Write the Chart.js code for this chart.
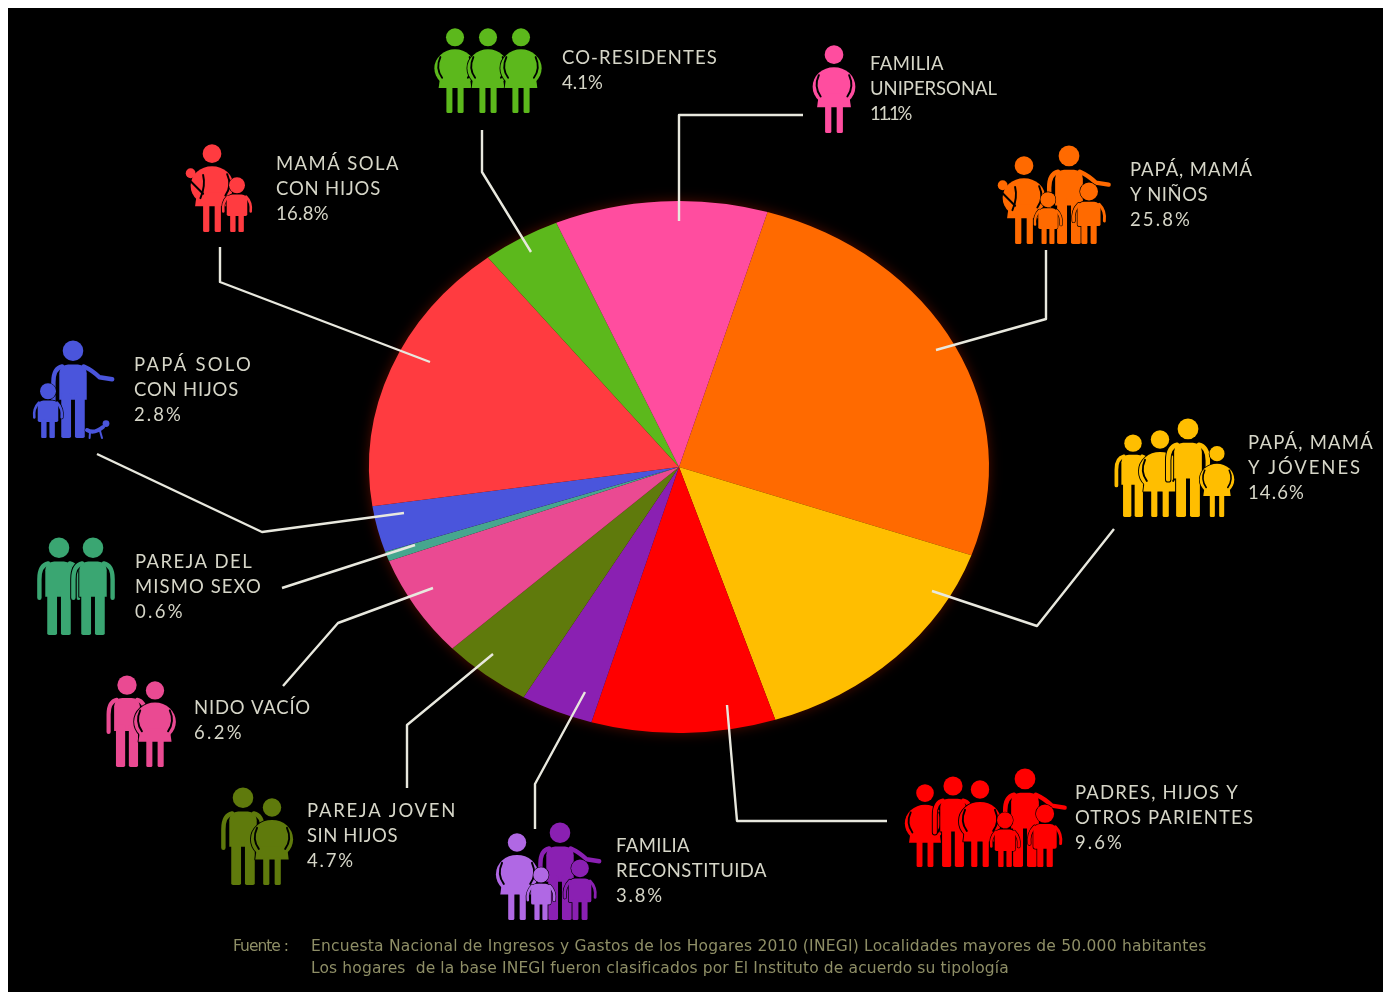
<!DOCTYPE html>
<html lang="es">
<head>
<meta charset="utf-8">
<title>Tipos de hogares</title>
<script src="https://cdn.jsdelivr.net/npm/chart.js@4"></script>
<style>
  html, body { margin: 0; padding: 0; background: #fff; }
  canvas { display: block; }
</style>
</head>
<body>
<canvas id="pie" width="1383" height="992"></canvas>
<script>
// Household types, clockwise from the orange slice.
const categories = [
  ['PAPÁ, MAMÁ', 'Y NIÑOS'],
  ['PAPÁ, MAMÁ', 'Y JÓVENES'],
  ['PADRES, HIJOS Y', 'OTROS PARIENTES'],
  ['FAMILIA', 'RECONSTITUIDA'],
  ['PAREJA JOVEN', 'SIN HIJOS'],
  ['NIDO VACÍO'],
  ['PAREJA DEL', 'MISMO SEXO'],
  ['PAPÁ SOLO', 'CON HIJOS'],
  ['MAMÁ SOLA', 'CON HIJOS'],
  ['CO-RESIDENTES'],
  ['FAMILIA', 'UNIPERSONAL']
];
const shares = [25.8, 14.6, 9.6, 3.8, 4.7, 6.2, 0.6, 2.8, 16.8, 4.1, 11.1];
const sliceColors = ['#ff6a00', '#ffbe00', '#ff0000', '#8a20b2', '#5f7a0c', '#ea4a92',
                     '#46a68e', '#4a55dc', '#ff3b40', '#5cb81c', '#ff4d9f'];
const footnoteSource = 'Fuente :';
const footnotes = [
  'Encuesta Nacional de Ingresos y Gastos de los Hogares 2010 (INEGI) Localidades mayores de 50.000 habitantes',
  'Los hogares  de la base INEGI fueron clasificados por El Instituto de acuerdo su tipología'
];

// Page layout
const PANEL = { x: 8, y: 8 };
const PIE = { cx: 679, cy: 467, rx: 310, ry: 266 };
const labelAnchors = [
  [1130, 170], [1248, 443], [1075, 793], [616, 846], [307, 811], [194, 708],
  [135, 562], [134, 365], [276, 164], [562, 58], [870, 64]
];
// Set width of every label line, percentage last.
const labelWidths = [
  [123, 78, 62], [126, 114, 57], [164, 179, 49], [74, 151, 48], [150, 91, 48], [117, 50],
  [118, 127, 50], [119, 105, 49], [124, 105, 53], [156, 41], [74, 127, 40]
];
const leaders = [
  [[1046, 250], [1046, 319], [936, 350]],
  [[1114, 529], [1037, 626], [932, 591]],
  [[887, 821], [737, 821], [727, 705]],
  [[535, 829], [535, 784], [585, 692]],
  [[407, 788], [407, 725], [493, 654]],
  [[283, 686], [338, 623], [433, 588]],
  [[282, 588], [415, 545]],
  [[97, 454], [262, 532], [404, 513]],
  [[220, 247], [220, 282], [430, 362]],
  [[482, 130], [482, 172], [531, 252]],
  [[803, 115], [679, 115], [679, 221]]
];
// kind, centre x, baseline y, height, optional tint, pointing arm
const families = [
  [['mother', 1024, 244, 89], ['man', 1069, 244, 99, null, true], ['kid', 1048, 244, 54], ['kid', 1089, 244, 64]],
  [['man', 1133, 517, 83], ['woman', 1160, 517, 88], ['man', 1188, 517, 99], ['woman', 1217, 517, 72]],
  [['woman', 925, 867, 84], ['man', 953, 867, 91], ['woman', 980, 867, 88], ['man', 1025, 867, 99, null, true], ['kid', 1005, 867, 57], ['kid', 1045, 867, 65]],
  [['woman', 517, 920, 88, '#b068e4'], ['man', 560, 920, 98, '#8a20b2', true], ['kid', 541, 920, 55, '#b068e4'], ['kid', 580, 920, 63, '#8a20b2']],
  [['man', 243, 885, 98], ['woman', 272, 885, 88]],
  [['man', 127, 767, 92], ['woman', 155, 767, 87]],
  [['man', 59, 635, 98, '#3aa672'], ['man', 93, 635, 98, '#3aa672']],
  [['man', 73, 438, 98, null, true], ['kid', 48, 438, 57], ['dog', 98, 438, 20]],
  [['mother', 212, 232, 89], ['kid', 237, 232, 57]],
  [['woman', 455, 113, 86], ['woman', 488, 113, 86], ['woman', 521, 113, 86]],
  [['woman', 834, 133, 89]]
];

// Builds the solid shapes, stroked limbs and dark cut lines of one pictogram, in units of 1/100 height.
function personShapes(kind, pointing) {
  const fills = [], limbs = [], cuts = [];
  const p = () => new Path2D();
  const head = (y, r) => { const h = p(); h.arc(0, y, r, 0, 7); fills.push(h); };
  const legs = (xo, xi, top) => {
    for (const s of [-1, 1]) {
      const l = p();
      l.roundRect(Math.min(s * xo, s * xi), top, Math.abs(xo - xi), -top, 1.8);
      fills.push(l);
    }
  };
  const limb = (d, w) => limbs.push([new Path2D(d), w]);
  if (kind === 'man') {
    head(-89, 10.5);
    const t = p(); t.roundRect(-14, -75, 28, 36, [9, 9, 0, 0]); fills.push(t);
    legs(12, 2, -46);
    limb('M-11 -73 Q-20 -71 -20 -57 L-20 -38', 4.5);
    limb(pointing ? 'M11 -73 Q20 -69 27 -62 L40 -60' : 'M11 -73 Q20 -71 20 -57 L20 -38', 4.5);
  } else if (kind === 'woman' || kind === 'mother') {
    head(-88, 10.5);
    const b = p(); b.ellipse(0, -52, 24, 22, 0, 0, 7); fills.push(b);
    const s = p(); s.moveTo(-17, -44); s.lineTo(17, -44); s.lineTo(19, -29); s.lineTo(-19, -29); s.closePath(); fills.push(s);
    legs(10, 3, -31);
    cuts.push(new Path2D('M17 -65 Q23 -52 15 -41'));
    if (kind === 'woman') {
      cuts.push(new Path2D('M-17 -65 Q-23 -52 -15 -41'));
    } else {
      const baby = p(); baby.arc(-24, -66, 5.5, 0, 7); fills.push(baby);
      cuts.push(new Path2D('M-24 -57 L-10 -43'));
      cuts.push(new Path2D('M-10 -64 Q-7 -52 -13 -38'));
    }
  } else if (kind === 'kid') {
    head(-82, 14);
    const t = p(); t.roundRect(-18, -66, 36, 38, [10, 10, 3, 3]); fills.push(t);
    legs(12, 2.5, -32);
    limb('M16 -62 Q26 -52 24 -36', 4.5);
    limb('M-16 -62 Q-26 -52 -24 -36', 4.5);
  } else if (kind === 'dog') {
    const h = p(); h.arc(40, -72, 17, 0, 7); fills.push(h);
    limb('M-55 -40 Q-20 -18 25 -55', 20);
    limb('M-40 -30 L-42 0', 10);
    limb('M10 -35 L20 0', 10);
  }
  return { fills, limbs, cuts };
}

function drawFigure(ctx, kind, cx, base, h, color, pointing) {
  const { fills, limbs, cuts } = personShapes(kind, pointing);
  const s = h / 100;
  ctx.save();
  ctx.translate(cx, base);
  ctx.scale(s, s);
  ctx.lineCap = 'round';
  ctx.lineJoin = 'round';
  // A dark keyline keeps overlapping people readable.
  ctx.strokeStyle = '#000';
  ctx.lineWidth = 2;
  fills.forEach(f => ctx.stroke(f));
  limbs.forEach(([d, w]) => { ctx.lineWidth = w + 2; ctx.stroke(d); });
  ctx.fillStyle = color;
  ctx.strokeStyle = color;
  fills.forEach(f => ctx.fill(f));
  limbs.forEach(([d, w]) => { ctx.lineWidth = w; ctx.stroke(d); });
  ctx.strokeStyle = '#000';
  ctx.lineWidth = 2.2;
  cuts.forEach(d => ctx.stroke(d));
  ctx.restore();
}

// Writes a line spaced out so that it spans the given width.
function spacedText(c, text, x, y, width) {
  c.letterSpacing = '0px';
  const extra = (width - c.measureText(text).width) / text.length;
  c.letterSpacing = extra.toFixed(2) + 'px';
  c.fillText(text, x, y);
  c.letterSpacing = '0px';
}

// Squeezes the circular pie controller into the flattened oval of the poster.
const ovalPie = {
  id: 'ovalPie',
  beforeDatasetsDraw(chart) {
    const c = chart.ctx;
    c.save();
    c.shadowColor = 'rgba(255,40,10,0.35)';
    c.shadowBlur = 14;
    c.fillStyle = '#300';
    c.beginPath();
    c.ellipse(PIE.cx, PIE.cy, PIE.rx - 1, PIE.ry - 1, 0, 0, 7);
    c.fill();
    c.restore();
    c.save();
    c.translate(PIE.cx, PIE.cy);
    c.scale(1, PIE.ry / PIE.rx);
    c.translate(-PIE.cx, -PIE.cy);
  },
  afterDatasetsDraw(chart) {
    chart.ctx.restore();
  }
};

const poster = {
  id: 'poster',
  beforeDraw(chart) {
    const c = chart.ctx, { width, height } = chart;
    c.save();
    c.fillStyle = '#fff';
    c.fillRect(0, 0, width, height);
    c.fillStyle = '#000';
    c.fillRect(PANEL.x, PANEL.y, width - PANEL.x, height - PANEL.y);
    c.restore();
  },
  afterDraw(chart) {
    const c = chart.ctx;
    c.save();
    // Leader lines from each slice out to its pictogram
    c.strokeStyle = '#e8e8de';
    c.lineWidth = 2.4;
    c.lineJoin = 'round';
    leaders.forEach(pts => {
      c.beginPath();
      pts.forEach(([x, y], i) => (i ? c.lineTo(x, y) : c.moveTo(x, y)));
      c.stroke();
    });
    // Pictograms, tinted like their slice
    families.forEach((group, i) => {
      group.forEach(([kind, x, base, h, tint, pointing]) =>
        drawFigure(c, kind, x, base, h, tint || sliceColors[i], pointing));
    });
    // Category names and percentages
    c.fillStyle = '#d6d6c8';
    c.font = '400 18.5px Lato';
    c.textBaseline = 'middle';
    c.textAlign = 'left';
    categories.forEach((lines, i) => {
      const [x, y] = labelAnchors[i];
      [...lines, shares[i].toFixed(1) + '%'].forEach((t, k) =>
        spacedText(c, t, x, y + k * 25, labelWidths[i][k]));
    });
    // Source note
    c.fillStyle = '#8e8e66';
    c.font = '400 15.5px "DejaVu Sans"';
    spacedText(c, footnoteSource, 233, 947, 55);
    spacedText(c, footnotes[0], 311, 947, 896);
    spacedText(c, footnotes[1], 311, 969, 698);
    c.restore();
  }
};

new Chart(document.getElementById('pie'), {
  type: 'pie',
  data: {
    labels: categories.map(l => l.join(' ')),
    datasets: [{ data: shares, backgroundColor: sliceColors, borderWidth: 0, hoverOffset: 0 }]
  },
  options: {
    responsive: false,
    animation: false,
    rotation: 16.6,
    layout: {
      padding: {
        left: PIE.cx - PIE.rx,
        right: 1383 - PIE.cx - PIE.rx,
        top: PIE.cy - PIE.rx,
        bottom: 992 - PIE.cy - PIE.rx
      }
    },
    plugins: { legend: { display: false }, tooltip: { enabled: false } }
  },
  plugins: [poster, ovalPie]
});
</script>
</body>
</html>
